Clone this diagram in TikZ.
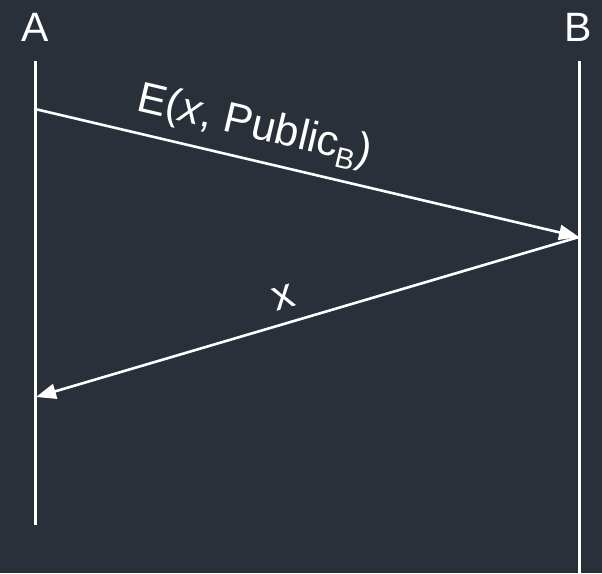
\documentclass[tikz,border=0pt]{standalone}
\usepackage{fontspec}
\setmainfont{Liberation Sans}
\usetikzlibrary{arrows.meta}
\definecolor{bgc}{RGB}{41,48,57}
\newcommand{\subB}{\raisebox{-0.22em}{\fontsize{29}{29}\selectfont B}}
\begin{document}
\begin{tikzpicture}[x=1pt,y=-1pt,
  lifeline/.style={white,line width=3pt},
  msg/.style={white,line width=2.6pt,-{Triangle[length=20pt,width=15pt]}},
  lbl/.style={white,font=\fontsize{41}{48}\selectfont,inner sep=0pt},
  msglbl/.style={white,font=\fontsize{43}{48}\selectfont,inner sep=0pt,sloped}]
\fill[bgc] (0,0) rectangle (602,573);
\useasboundingbox (0,0) rectangle (602,573);
\node[lbl] (A) at (35,27) {A};
\node[lbl] (B) at (578,27) {B};
\coordinate (Atop) at (35,61);
\coordinate (Abot) at (35,525);
\coordinate (Btop) at (579,61);
\coordinate (Bbot) at (579,573);
\coordinate (A1) at (35,109);
\coordinate (B1) at (579,237);
\coordinate (A2) at (36,397);
\draw[lifeline] (Atop) -- (Abot);
\draw[lifeline] (Btop) -- (Bbot);
\draw[msg] (A1) -- node[msglbl,pos=0.39,above=11pt] {E(\textit{x}, Public\subB)} (B1);
\draw[msg] (B1) -- node[msglbl,pos=0.53,above=13pt] {x} (A2);
\end{tikzpicture}
\end{document}
